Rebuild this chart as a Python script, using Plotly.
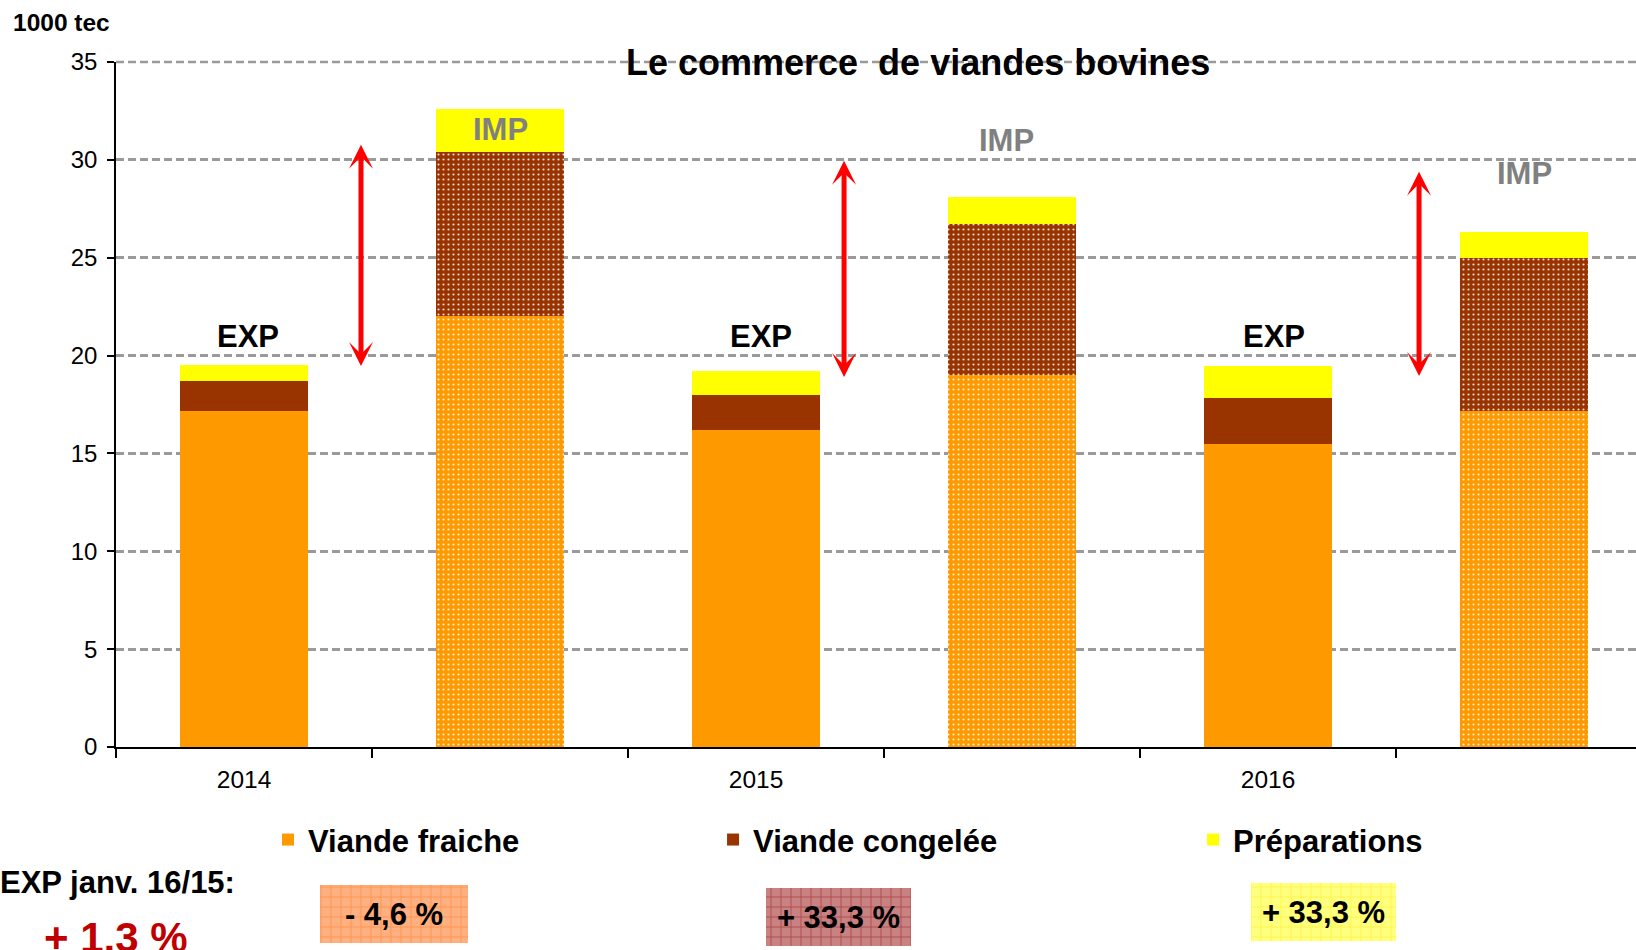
import plotly.graph_objects as go

# ---------------- data ----------------
categories = ["EXP 2014", "IMP 2014", "EXP 2015", "IMP 2015", "EXP 2016", "IMP 2016"]
x_pos = [0, 1, 2, 3, 4, 5]
year_ticks = [0, 2, 4]
year_labels = ["2014", "2015", "2016"]
flow_labels = ["EXP", "IMP", "EXP", "IMP", "EXP", "IMP"]

fresh = [17.15, 22.0, 16.2, 19.0, 15.5, 17.15]      # Viande fraiche
frozen = [1.57, 8.4, 1.78, 7.72, 2.35, 7.82]        # Viande congelée
prep = [0.82, 2.2, 1.23, 1.4, 1.6, 1.32]            # Préparations

series_names = ["Viande fraiche", "Viande congelée", "Préparations"]
pct_labels = ["- 4,6 %", "+ 33,3 %", "+ 33,3 %"]
headline_label = "EXP janv. 16/15:"
headline_value = "+ 1,3 %"
y_max = 35

# ---------------- style ----------------
FONT = "Liberation Sans, Arial, sans-serif"
colors = ["#FF9900", "#993300", "#FFFF00"]
dotted = ["", ".", "", ".", "", "."]
plain = ["", "", "", "", "", ""]
pattern_shapes = [dotted, dotted, plain]
GRID = "#9A9A9A"

fig = go.Figure()
legend_ids = ["legend", "legend2", "legend3"]
for vals, name, col, lg, pshape in zip([fresh, frozen, prep], series_names, colors,
                                       legend_ids, pattern_shapes):
    fig.add_trace(go.Bar(
        x=x_pos, y=vals, name=name, width=0.5,
        marker=dict(color=col, line=dict(width=0),
                    pattern=dict(shape=pshape, fgcolor="white", fgopacity=0.85,
                                 size=5, solidity=0.15)),
        legend=lg, hoverinfo="skip",
    ))

# percentage boxes (bottom, in a pixel-mapped helper subplot)
box_cx = [394, 838.5, 1323.5]
box_w = [148, 145, 145]
box_top = [885, 888, 883]
box_h = [58, 58, 58]
box_fill = ["#FFB080", "#C88282", "#FFFF80"]
box_grid = ["#FF7418", "#9A0A0A", "#FFE800"]
for i in range(3):
    fig.add_trace(go.Bar(
        x=[box_cx[i]], y=[box_h[i]], base=[box_top[i]], width=[box_w[i]],
        xaxis="x2", yaxis="y2", showlegend=False, hoverinfo="skip",
        marker=dict(color=box_fill[i], line=dict(width=0),
                    pattern=dict(shape="+", fgcolor=box_grid[i], size=10, solidity=0.16)),
        text=[pct_labels[i]], textposition="inside", insidetextanchor="middle",
        textfont=dict(family=FONT, size=31, color="black", weight="bold"),
        constraintext="none", textangle=0,
    ))

annotations = []
# EXP / IMP labels
label_pos = [(0.016, 21.0), (1, 31.55), (2.018, 21.0), (2.977, 31.0), (4.024, 21.0), (5.0, 29.3)]
for (lx, ly), txt in zip(label_pos, flow_labels):
    annotations.append(dict(
        x=lx, y=ly, xref="x", yref="y", text=txt, showarrow=False,
        font=dict(family=FONT, size=31, weight="bold",
                  color="black" if txt == "EXP" else "#808080"),
    ))

# red double arrows
arrows = [(0.457, 30.77, 19.39), (2.344, 29.95, 18.83), (4.59, 29.39, 18.88)]
for ax_x, top, bot in arrows:
    annotations.append(dict(
        x=ax_x, y=top, ax=ax_x, ay=bot, xref="x", yref="y", axref="x", ayref="y",
        text="", showarrow=True, arrowside="end+start",
        arrowhead=3, startarrowhead=3, arrowsize=0.8, startarrowsize=0.8,
        arrowwidth=5, arrowcolor="#FF0000", standoff=0, startstandoff=0,
    ))

# title and other texts
annotations += [
    dict(x=0.5276, y=0.9989, xref="paper", yref="paper", text="Le commerce\u00a0 de viandes bovines",
         showarrow=False, xanchor="center", yanchor="middle",
         font=dict(family=FONT, size=36, weight="bold", color="black")),
    dict(x=-0.0691, y=1.045, xref="paper", yref="paper", text="1000 tec",
         showarrow=False, xanchor="left", yanchor="middle",
         font=dict(family=FONT, size=24.5, weight="bold", color="black")),
    dict(x=-0.0775, y=0.0755, xref="paper", yref="paper", text=headline_label,
         showarrow=False, xanchor="left", yanchor="middle",
         font=dict(family=FONT, size=31, weight="bold", color="black")),
    dict(x=-0.0487, y=0.0146, xref="paper", yref="paper", text=headline_value,
         showarrow=False, xanchor="left", yanchor="middle",
         font=dict(family=FONT, size=42, weight="bold", color="#C00000")),
]

legend_common = dict(orientation="h", yanchor="middle", y=0.124, xanchor="left",
                     bgcolor="rgba(0,0,0,0)", borderwidth=0,
                     font=dict(family=FONT, size=31, weight="bold", color="black"))

fig.update_layout(
    width=1636, height=950, autosize=False,
    margin=dict(l=116, r=0, t=62, b=0, autoexpand=False),
    paper_bgcolor="white", plot_bgcolor="rgba(0,0,0,0)",
    barmode="stack",
    showlegend=True,
    legend=dict(x=0.100, **legend_common),
    legend2=dict(x=0.3928, **legend_common),
    legend3=dict(x=0.7086, **legend_common),
    annotations=annotations,
    # top gridline (at y = 35, the top of the value axis)
    shapes=[dict(type="line", xref="paper", x0=0, x1=1, yref="paper", y0=1, y1=1,
                 layer="below", line=dict(color=GRID, width=2.5, dash="8px,4px"))],
    xaxis=dict(
        domain=[0, 1], anchor="y",
        range=[-0.5, 5.4375],
        tickmode="array", tickvals=year_ticks, ticktext=year_labels,
        ticks="outside", ticklen=10, tickcolor="rgba(0,0,0,0)",
        tickfont=dict(family=FONT, size=24.5, color="black"),
        showline=True, linecolor="black", linewidth=1.5,
        showgrid=False, zeroline=False, automargin=False,
        minor=dict(tickmode="array", tickvals=[-0.5, 0.5, 1.5, 2.5, 3.5, 4.5],
                   ticks="outside", ticklen=9, tickcolor="black", tickwidth=1.5,
                   showgrid=False),
    ),
    yaxis=dict(
        domain=[0.2286, 1], anchor="x",
        range=[0, y_max], tickmode="linear", tick0=0, dtick=5,
        ticks="outside", ticklen=7, tickcolor="black", tickwidth=1.5,
        ticklabelstandoff=5,
        tickfont=dict(family=FONT, size=24, color="black"),
        showline=True, linecolor="black", linewidth=1.5,
        showgrid=True, gridcolor=GRID, gridwidth=2.5, griddash="8px,4px",
        zeroline=False, automargin=False,
    ),
    xaxis2=dict(domain=[0, 1], anchor="y2", range=[116, 1636], visible=False, fixedrange=True),
    yaxis2=dict(domain=[0, 1], anchor="x2", range=[950, 62], visible=False, fixedrange=True),
)

post = ("document.documentElement.style.margin='0';document.documentElement.style.padding='0';"
        "document.body.style.margin='0';document.body.style.padding='0';"
        "document.documentElement.style.overflow='hidden';document.body.style.overflow='hidden';")

fig.write_html("out.html", post_script=post, config={"displayModeBar": False})
